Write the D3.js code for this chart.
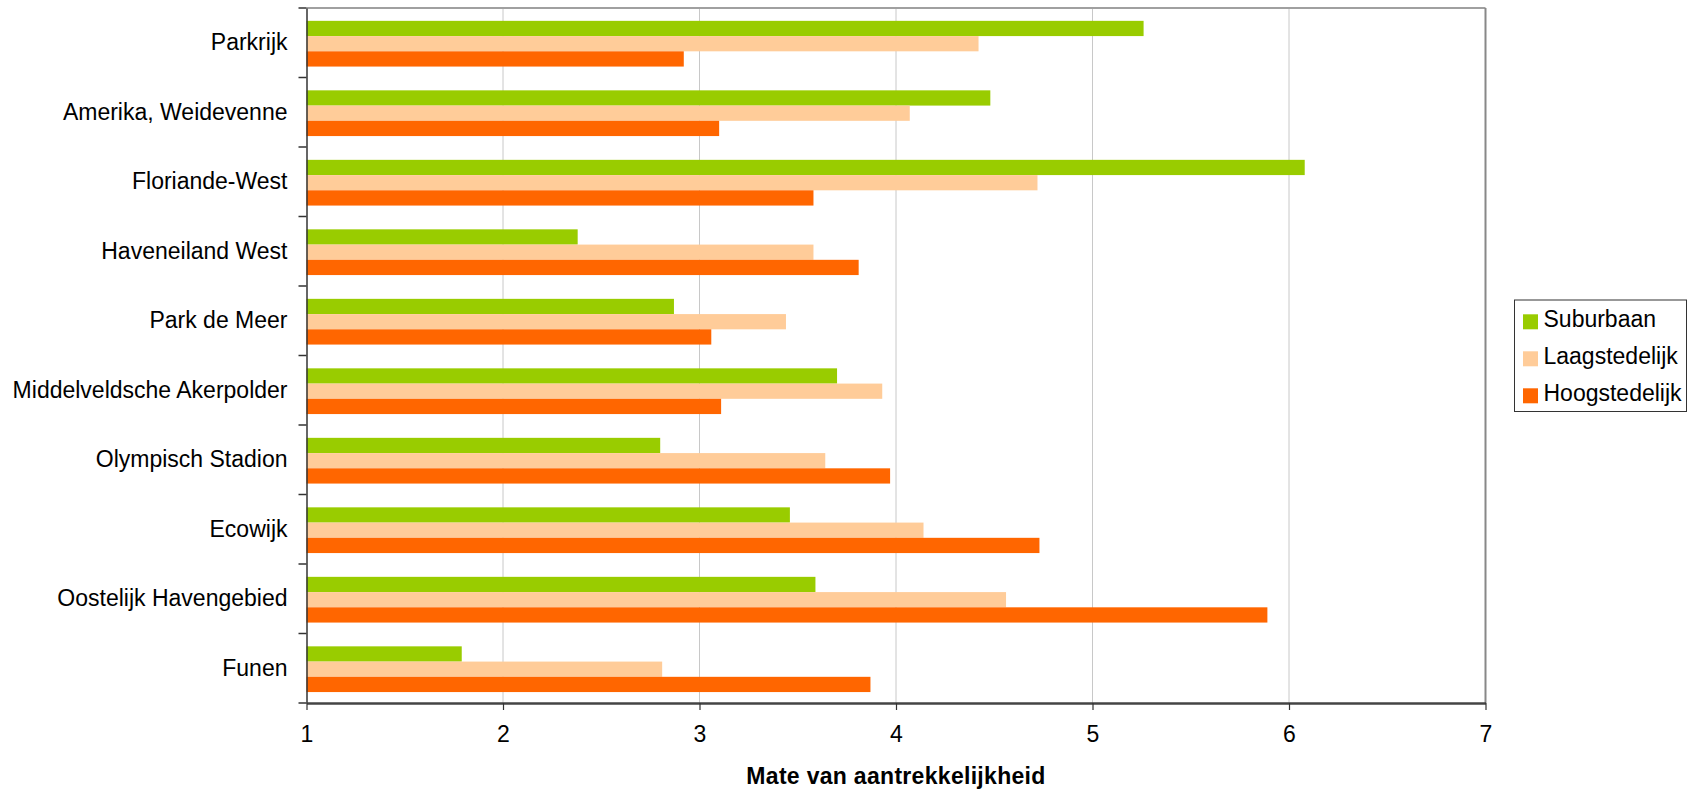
<!DOCTYPE html>
<html>
<head>
<meta charset="utf-8">
<script src="https://cdn.jsdelivr.net/npm/d3@7/dist/d3.min.js"></script>
<style>
  html, body { margin: 0; padding: 0; background: #fff; }
  svg { display: block; font-family: "Liberation Sans", Arial, sans-serif; }
</style>
</head>
<body>
<svg id="chart" width="1688" height="790"></svg>
<script>
const categories = [
  "Parkrijk", "Amerika, Weidevenne", "Floriande-West", "Haveneiland West",
  "Park de Meer", "Middelveldsche Akerpolder", "Olympisch Stadion",
  "Ecowijk", "Oostelijk Havengebied", "Funen"
];
const seriesNames = ["Suburbaan", "Laagstedelijk", "Hoogstedelijk"];
const suburbaan     = [5.26, 4.48, 6.08, 2.38, 2.87, 3.70, 2.80, 3.46, 3.59, 1.79];
const laagstedelijk = [4.42, 4.07, 4.72, 3.58, 3.44, 3.93, 3.64, 4.14, 4.56, 2.81];
const hoogstedelijk = [2.92, 3.10, 3.58, 3.81, 3.06, 3.11, 3.97, 4.73, 5.89, 3.87];
const xTicks = [1, 2, 3, 4, 5, 6, 7];
const colors = ["#99CC00", "#FFCC99", "#FF6600"];
const xTitle = "Mate van aantrekkelijkheid";

(function () {
const seriesValues = [suburbaan, laagstedelijk, hoogstedelijk];

const svg = d3.select("#chart");
const pLeft = 306.5, pRight = 1485.5, pTop = 8, pBottom = 703;

const x = d3.scaleLinear().domain([1, 7]).range([pLeft, pRight]);
const y0 = d3.scaleBand().domain(categories).range([pTop, pBottom]).padding(0);
const bw = y0.bandwidth();
const y1 = d3.scaleBand().domain(seriesNames).range([0, bw])
  .paddingInner(0).paddingOuter(0.78).align(0.54);

// gridlines
svg.append("g").selectAll("line")
  .data(xTicks.filter(d => d > 1 && d < 7))
  .join("line")
  .attr("x1", d => x(d)).attr("x2", d => x(d))
  .attr("y1", pTop).attr("y2", pBottom)
  .attr("stroke", "#c8c8c8").attr("stroke-width", 1);

// plot border top / right
svg.append("line").attr("x1", pLeft).attr("x2", pRight).attr("y1", pTop).attr("y2", pTop)
  .attr("stroke", "#a0a0a0").attr("stroke-width", 2);
svg.append("line").attr("x1", pRight).attr("x2", pRight).attr("y1", pTop).attr("y2", pBottom)
  .attr("stroke", "#888").attr("stroke-width", 2);

// bars
const groups = svg.append("g").selectAll("g")
  .data(categories)
  .join("g")
  .attr("transform", d => `translate(0,${y0(d)})`);

groups.selectAll("rect")
  .data((c, i) => seriesNames.map((s, j) => ({ s, v: seriesValues[j][i], j })))
  .join("rect")
  .attr("x", x(1))
  .attr("y", d => y1(d.s))
  .attr("width", d => x(d.v) - x(1))
  .attr("height", y1.bandwidth())
  .attr("fill", d => colors[d.j]);

// y axis
const yAxis = d3.axisLeft(y0).tickSize(0).tickPadding(19);
const gy = svg.append("g").attr("transform", `translate(${pLeft},0)`).call(yAxis);
gy.select(".domain").attr("stroke", "#333").attr("stroke-width", 1.5);
gy.selectAll("text").attr("font-size", "23px").attr("fill", "#000")
  .attr("font-family", "Liberation Sans, Arial, sans-serif");
// category boundary ticks
svg.append("g").selectAll("line")
  .data(d3.range(categories.length + 1))
  .join("line")
  .attr("x1", pLeft - 8).attr("x2", pLeft)
  .attr("y1", i => pTop + i * bw).attr("y2", i => pTop + i * bw)
  .attr("stroke", "#333").attr("stroke-width", 1.5);

// x axis
const xAxis = d3.axisBottom(x).tickValues(xTicks).tickFormat(d3.format("d"))
  .tickSizeInner(7).tickSizeOuter(0).tickPadding(16);
const gx = svg.append("g").attr("transform", `translate(0,${pBottom})`).call(xAxis);
gx.select(".domain").attr("stroke", "#444").attr("stroke-width", 2.5);
gx.selectAll(".tick line").attr("stroke", "#333").attr("stroke-width", 1.2);
gx.selectAll("text").attr("font-size", "23px").attr("fill", "#000")
  .attr("font-family", "Liberation Sans, Arial, sans-serif");

// x title
svg.append("text")
  .attr("x", (pLeft + pRight) / 2).attr("y", 784)
  .attr("text-anchor", "middle")
  .attr("font-size", "23px").attr("font-weight", "bold")
  .attr("letter-spacing", "0.3px")
  .text(xTitle);

// legend
const lg = svg.append("g");
lg.append("rect").attr("x", 1514.5).attr("y", 300).attr("width", 172).attr("height", 111.5)
  .attr("fill", "#fff").attr("stroke", "#333").attr("stroke-width", 1);
const items = lg.selectAll("g.item").data(seriesNames).join("g").attr("class", "item")
  .attr("transform", (d, i) => `translate(1523,${314.3 + i * 37})`);
items.append("rect").attr("width", 15).attr("height", 15).attr("fill", (d, i) => colors[i]);
items.append("text").attr("x", 20.5).attr("y", 12.5)
  .attr("font-size", "23px").attr("fill", "#000").text(d => d);
})();
</script>
</body>
</html>
